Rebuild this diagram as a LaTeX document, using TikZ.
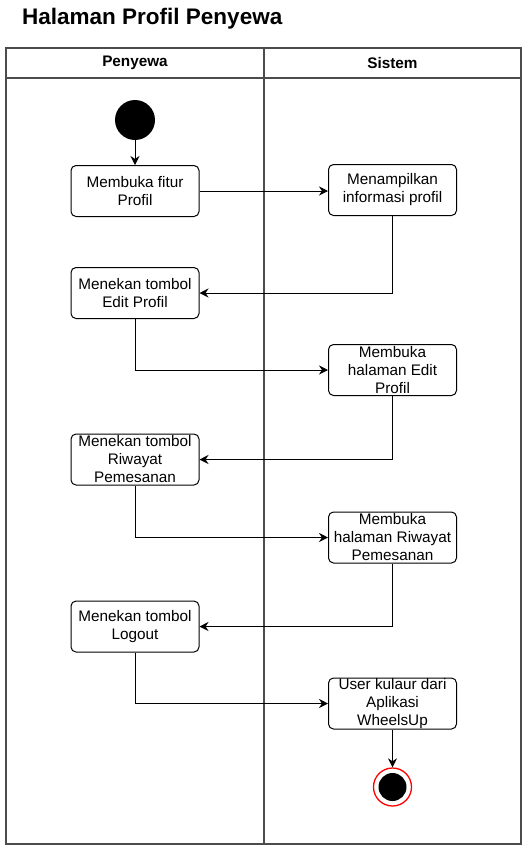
\documentclass[tikz,border=0pt]{standalone}
\usepackage{fontspec}
\setmainfont{Liberation Sans}
\usepackage{tikz}
\usetikzlibrary{shapes.geometric, arrows}
\usetikzlibrary{arrows.meta}
\tikzstyle{process} = [rectangle, rounded corners=5pt, minimum width=128pt, minimum height=51pt, inner sep=0pt, text centered, align=center, draw=black, line width=1pt, font=\fontsize{15.3}{18}\selectfont]
\tikzstyle{arrow} = [line width=1pt,-{Stealth[length=9pt,width=9pt]}]
\tikzstyle{lane} = [draw=black!70, line width=1.3pt]

\begin{document}
\begin{tikzpicture}[x=1pt,y=-1pt]
                        \useasboundingbox (0,0) rectangle (530,854);
                        \node (title) [anchor=base west, inner sep=0pt, font=\fontsize{22.5}{26}\selectfont\bfseries] at (22,24) {Halaman Profil Penyewa};

                        % swimlanes
                        \draw[lane] (6,48) rectangle (521,844);
                        \draw[lane] (6,78) -- (521,78);
                        \draw[lane] (264,48) -- (264,844);
                        \node (penyewa) [font=\fontsize{15.3}{18}\selectfont\bfseries] at (135,63) {Penyewa};
                        \node (sistem) [font=\fontsize{15.3}{18}\selectfont\bfseries] at (392.5,63) {Sistem};

                        \node (0) [circle, fill=black, minimum size=40pt, inner sep=0pt] at (135,120) {};

                        \node (1) [process] at (135,191) {Membuka fitur\\Profil};
                        \node (2) [process] at (392.5,190) {Menampilkan\\informasi profil};
                        \node (3) [process] at (135,293) {Menekan tombol\\Edit Profil};
                        \node (4) [process] at (392.5,370) {Membuka\\halaman Edit\\Profil};
                        \node (5) [process] at (135,459.5) {Menekan tombol\\Riwayat\\Pemesanan};
                        \node (6) [process] at (392.5,537.5) {Membuka\\halaman Riwayat\\Pemesanan};
                        \node (7) [process] at (135,626.5) {Menekan tombol\\Logout};
                        \node (8) [process] at (392.5,703.5) {User kulaur dari\\Aplikasi\\WheelsUp};

                        \node (9) [circle, draw=red, line width=1.3pt, fill=white, minimum size=38pt, inner sep=0pt] at (392.5,787) {};
                        \node (9i) [circle, fill=black, minimum size=28pt, inner sep=0pt] at (9) {};

                        \draw[arrow] (0) -- (1);
                        \draw[arrow] (1) -- (1.east -| 2.west);
                        \draw[arrow] (2.south) |- (3.east);
                        \draw[arrow] (3.south) |- (4.west);
                        \draw[arrow] (4.south) |- (5.east);
                        \draw[arrow] (5.south) |- (6.west);
                        \draw[arrow] (6.south) |- (7.east);
                        \draw[arrow] (7.south) |- (8.west);
                        \draw[arrow] (8) -- (9);

                    \end{tikzpicture}
\end{document}
